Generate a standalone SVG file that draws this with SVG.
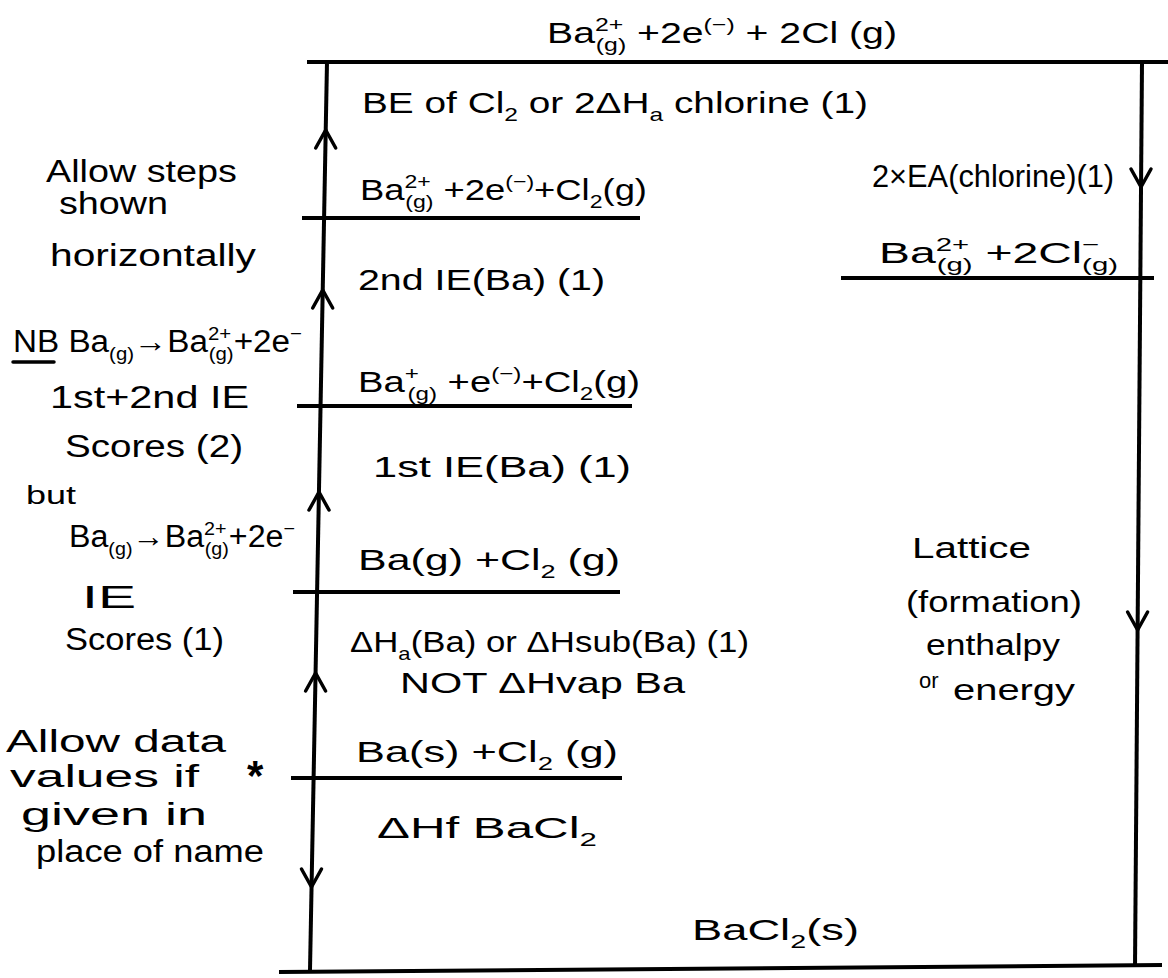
<svg xmlns="http://www.w3.org/2000/svg" width="1168" height="978" viewBox="0 0 1168 978">
<defs>
<style>
text{font-family:"Liberation Sans","DejaVu Sans",sans-serif;fill:#000;font-size:30px}
.note{font-size:31px}
.sm{font-size:22px}
.s{font-size:19px;baseline-shift:-8px}
.p{font-size:19px;baseline-shift:12px}
.lvl{stroke:#000;stroke-width:4;fill:none}
.ax{stroke:#000;stroke-width:4;fill:none}
.ah{stroke:#000;stroke-width:3.5;fill:none;stroke-linecap:round;stroke-linejoin:round}
</style>
<path id="up" class="ah" d="M-10,18 L0,0 L10,18"/>
<path id="dn" class="ah" d="M-10,-18 L0,0 L10,-18"/>
</defs>
<rect width="1168" height="978" fill="#fff"/>

<!-- connectors -->
<g id="connectors">
<path class="ax" d="M327,62 L310,970"/>
<path class="ax" d="M1142,62 L1135,966"/>
<use href="#up" x="325.7" y="130"/>
<use href="#up" x="322.7" y="290"/>
<use href="#up" x="319" y="492"/>
<use href="#up" x="315.6" y="673"/>
<use href="#dn" x="311.5" y="887"/>
<use href="#dn" x="1141" y="187"/>
<use href="#dn" x="1137.6" y="630"/>
</g>

<!-- energy levels -->
<g id="level-top">
<path class="lvl" d="M307,62 L1168,62"/>
<text x="547" y="43" textLength="350" lengthAdjust="spacingAndGlyphs">Ba<tspan class="p">2+</tspan><tspan class="s" dx="-21">(g)</tspan> +2e<tspan class="p">(−)</tspan> + 2Cl (g)</text>
</g>
<g id="level-ba2-e-cl2">
<path class="lvl" d="M302,218 L640,218"/>
<text x="360" y="200" textLength="287" lengthAdjust="spacingAndGlyphs">Ba<tspan class="p">2+</tspan><tspan class="s" dx="-21">(g)</tspan> +2e<tspan class="p">(−)</tspan>+Cl<tspan class="s">2</tspan>(g)</text>
</g>
<g id="level-ba1-e-cl2">
<path class="lvl" d="M297,406 L632,406"/>
<text x="358" y="392" textLength="282" lengthAdjust="spacingAndGlyphs">Ba<tspan class="p">+</tspan><tspan class="s" dx="-9">(g)</tspan> +e<tspan class="p">(−)</tspan>+Cl<tspan class="s">2</tspan>(g)</text>
</g>
<g id="level-ba-g">
<path class="lvl" d="M293,592 L620,592"/>
<text x="358" y="570" textLength="262" lengthAdjust="spacingAndGlyphs">Ba(g) +Cl<tspan class="s">2</tspan> (g)</text>
</g>
<g id="level-ba-s">
<path class="lvl" d="M291,778 L622,778"/>
<text x="356" y="762" textLength="262" lengthAdjust="spacingAndGlyphs">Ba(s) +Cl<tspan class="s">2</tspan> (g)</text>
</g>
<g id="level-bacl2">
<path class="lvl" d="M279,972 L1162,965"/>
<text x="692" y="940" textLength="167" lengthAdjust="spacingAndGlyphs">BaCl<tspan class="s">2</tspan>(s)</text>
</g>
<g id="level-ions">
<path class="lvl" d="M841,278 L1154,278"/>
<text x="879" y="263" textLength="239" lengthAdjust="spacingAndGlyphs">Ba<tspan class="p">2+</tspan><tspan class="s" dx="-21">(g)</tspan> +2Cl<tspan class="p">−</tspan><tspan class="s" dx="-11">(g)</tspan></text>
</g>

<!-- step labels -->
<g id="step-be">
<text x="362" y="113" textLength="506" lengthAdjust="spacingAndGlyphs">BE of Cl<tspan class="s">2</tspan> or 2ΔH<tspan class="s">a</tspan> chlorine (1)</text>
</g>
<g id="step-ie2">
<text x="358" y="290" textLength="247" lengthAdjust="spacingAndGlyphs">2nd IE(Ba) (1)</text>
</g>
<g id="step-ie1">
<text x="373" y="477" textLength="258" lengthAdjust="spacingAndGlyphs">1st IE(Ba) (1)</text>
</g>
<g id="step-atom">
<text x="350" y="652" textLength="399" lengthAdjust="spacingAndGlyphs">ΔH<tspan class="s">a</tspan>(Ba) or ΔHsub(Ba) (1)</text>
<text x="400" y="693" textLength="285" lengthAdjust="spacingAndGlyphs">NOT ΔHvap Ba</text>
</g>
<g id="step-hf">
<text x="377" y="838" textLength="220" lengthAdjust="spacingAndGlyphs">ΔHf BaCl<tspan class="s">2</tspan></text>
</g>
<g id="step-ea">
<text x="872" y="187" textLength="242" lengthAdjust="spacingAndGlyphs" style="font-size:32px">2×EA(chlorine)(1)</text>
</g>
<g id="step-lattice">
<text x="912" y="558" textLength="119" lengthAdjust="spacingAndGlyphs">Lattice</text>
<text x="906" y="612" textLength="176" lengthAdjust="spacingAndGlyphs">(formation)</text>
<text x="926" y="655" textLength="134" lengthAdjust="spacingAndGlyphs">enthalpy</text>
<text class="sm" x="919" y="688">or</text>
<text x="953" y="700" textLength="122" lengthAdjust="spacingAndGlyphs">energy</text>
</g>

<!-- margin notes -->
<g id="note-steps">
<text class="note" x="46" y="182" textLength="191" lengthAdjust="spacingAndGlyphs">Allow steps</text>
<text class="note" x="59" y="214" textLength="109" lengthAdjust="spacingAndGlyphs">shown</text>
<text class="note" x="50" y="266" textLength="206" lengthAdjust="spacingAndGlyphs">horizontally</text>
</g>
<g id="note-nb">
<text class="note" x="13" y="352" textLength="289" lengthAdjust="spacingAndGlyphs">NB Ba<tspan class="s">(g)</tspan>→Ba<tspan class="p">2+</tspan><tspan class="s" dx="-21">(g)</tspan>+2e<tspan class="p">−</tspan></text>
<path class="ah" d="M13,362 L54,362"/>
<text class="note" x="50" y="408" textLength="199" lengthAdjust="spacingAndGlyphs">1st+2nd IE</text>
<text class="note" x="65" y="457" textLength="178" lengthAdjust="spacingAndGlyphs">Scores (2)</text>
<text x="26" y="504" textLength="50" lengthAdjust="spacingAndGlyphs" style="font-size:26px">but</text>
<text class="note" x="69" y="547" textLength="226" lengthAdjust="spacingAndGlyphs">Ba<tspan class="s">(g)</tspan>→Ba<tspan class="p">2+</tspan><tspan class="s" dx="-21">(g)</tspan>+2e<tspan class="p">−</tspan></text>
<text class="note" x="82" y="608" textLength="54" lengthAdjust="spacingAndGlyphs">IE</text>
<text class="note" x="65" y="650" textLength="159" lengthAdjust="spacingAndGlyphs">Scores (1)</text>
</g>
<g id="note-data">
<text class="note" x="6" y="752" textLength="220" lengthAdjust="spacingAndGlyphs">Allow data</text>
<text class="note" x="10" y="787" textLength="189" lengthAdjust="spacingAndGlyphs">values if</text>
<text class="note" x="21" y="825" textLength="186" lengthAdjust="spacingAndGlyphs">given in</text>
<text class="note" x="36" y="862" textLength="228" lengthAdjust="spacingAndGlyphs">place of name</text>
<text x="247" y="790" style="font-size:42px;font-weight:bold">*</text>
</g>
</svg>
